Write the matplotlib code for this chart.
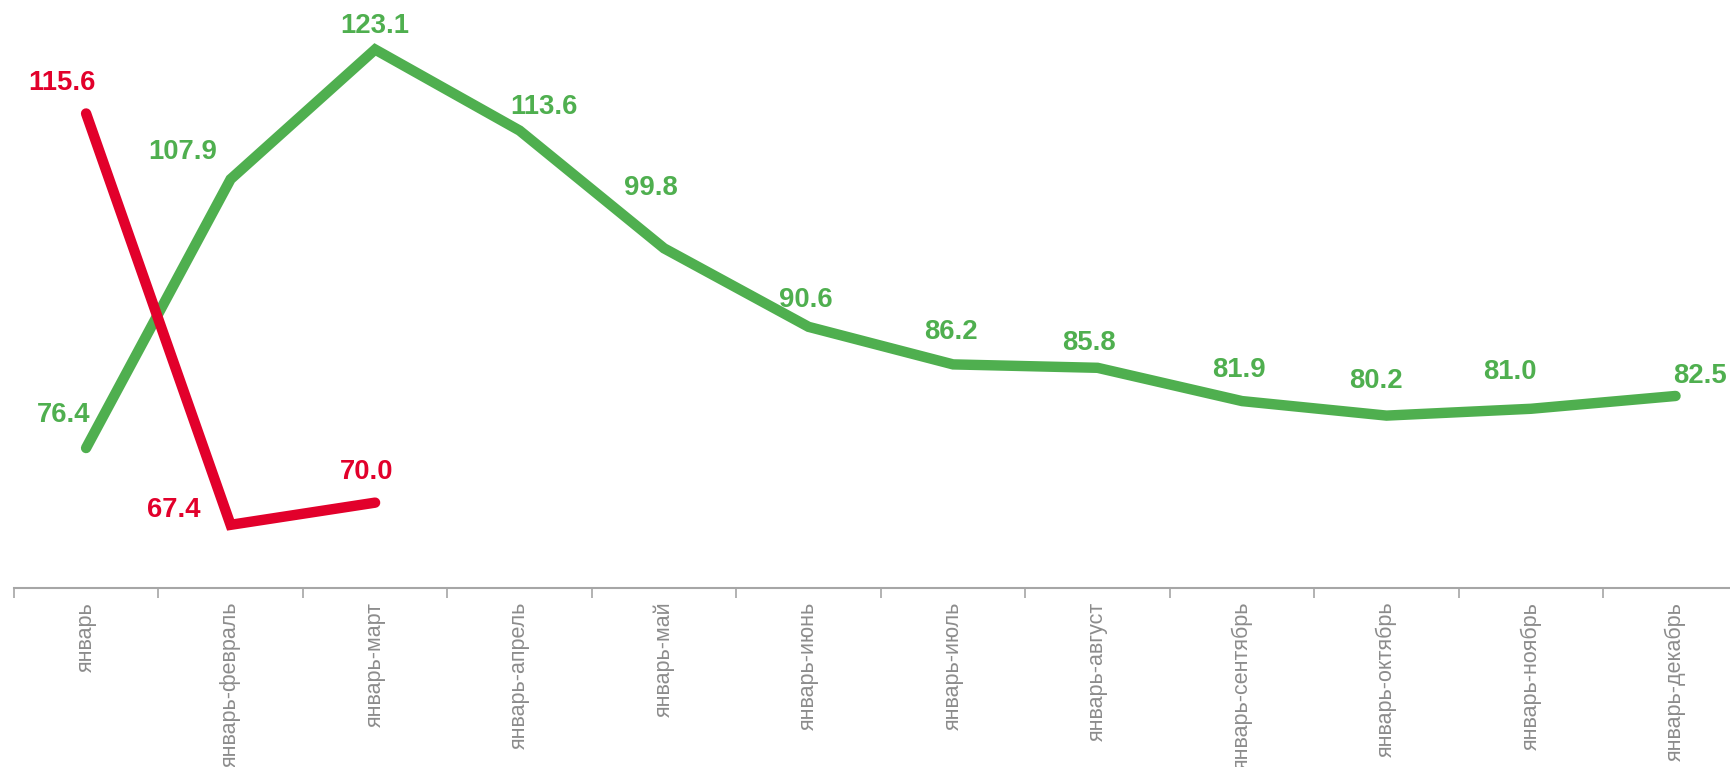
import matplotlib.pyplot as plt
from matplotlib.ticker import FixedLocator

plt.rcParams['font.family'] = ['Liberation Sans', 'DejaVu Sans']

# periods (cumulative from January)
periods = ['январь', 'январь-февраль', 'январь-март', 'январь-апрель',
           'январь-май', 'январь-июнь', 'январь-июль', 'январь-август',
           'январь-сентябрь', 'январь-октябрь', 'январь-ноябрь', 'январь-декабрь']

# previous year (green) and current year (red)
prev_year = [76.4, 107.9, 123.1, 113.6, 99.8, 90.6, 86.2, 85.8, 81.9, 80.2, 81.0, 82.5]
curr_year = [115.6, 67.4, 70.0]

green = '#4FAF4F'
red = '#E2002B'
grey = '#8C8C8C'

# label centre offsets in pixels (dx, dy)
green_off = [(-22, 36), (-48, 30), (0, 26.5), (24, 26), (-13, 63), (-2.5, 29.5),
             (-2.5, 35.5), (-8.5, 28), (-3.5, 34), (-10.5, 37.5), (-21, 40), (24, 23)]
red_off = [(-24.5, 33.5), (-56.5, 18), (-8, 33)]
half_cap = 9.8  # baseline sits half a cap height below the visual centre

fig = plt.figure(figsize=(17.31, 7.67), dpi=100)
ax = fig.add_axes([0.008, 0.2334, 1.0017, 0.7666])

x = list(range(len(periods)))
ax.plot(x, prev_year, color=green, lw=7.5, solid_capstyle='round', solid_joinstyle='miter')
ax.plot(x[:len(curr_year)], curr_year, color=red, lw=7.5, solid_capstyle='round', solid_joinstyle='miter')

for vals, offs, col in [(prev_year, green_off, green), (curr_year, red_off, red)]:
    for i, v in enumerate(vals):
        dx, dy = offs[i]
        ax.annotate(f'{v:.1f}', (i, v), xytext=(dx, dy - half_cap), textcoords='offset pixels',
                    ha='center', va='baseline', color=col, fontsize=19.8, fontweight='bold')

ax.set_xlim(-0.5, len(periods) - 0.5)
ax.set_ylim(60, 128.9)

ax.set_xticks(x)
ax.set_xticklabels(periods, rotation=90, color=grey, fontsize=15.5, va='top')
ax.tick_params(axis='x', which='major', length=0, pad=10)
ax.xaxis.set_minor_locator(FixedLocator([i - 0.5 for i in range(len(periods) + 1)]))
ax.tick_params(axis='x', which='minor', length=7, width=1.2, color='#A6A6A6')

ax.set_yticks([])
for s in ['left', 'top', 'right']:
    ax.spines[s].set_visible(False)
ax.spines['bottom'].set_color('#A6A6A6')
ax.spines['bottom'].set_linewidth(1.5)

fig.savefig('out.png', dpi=100)
